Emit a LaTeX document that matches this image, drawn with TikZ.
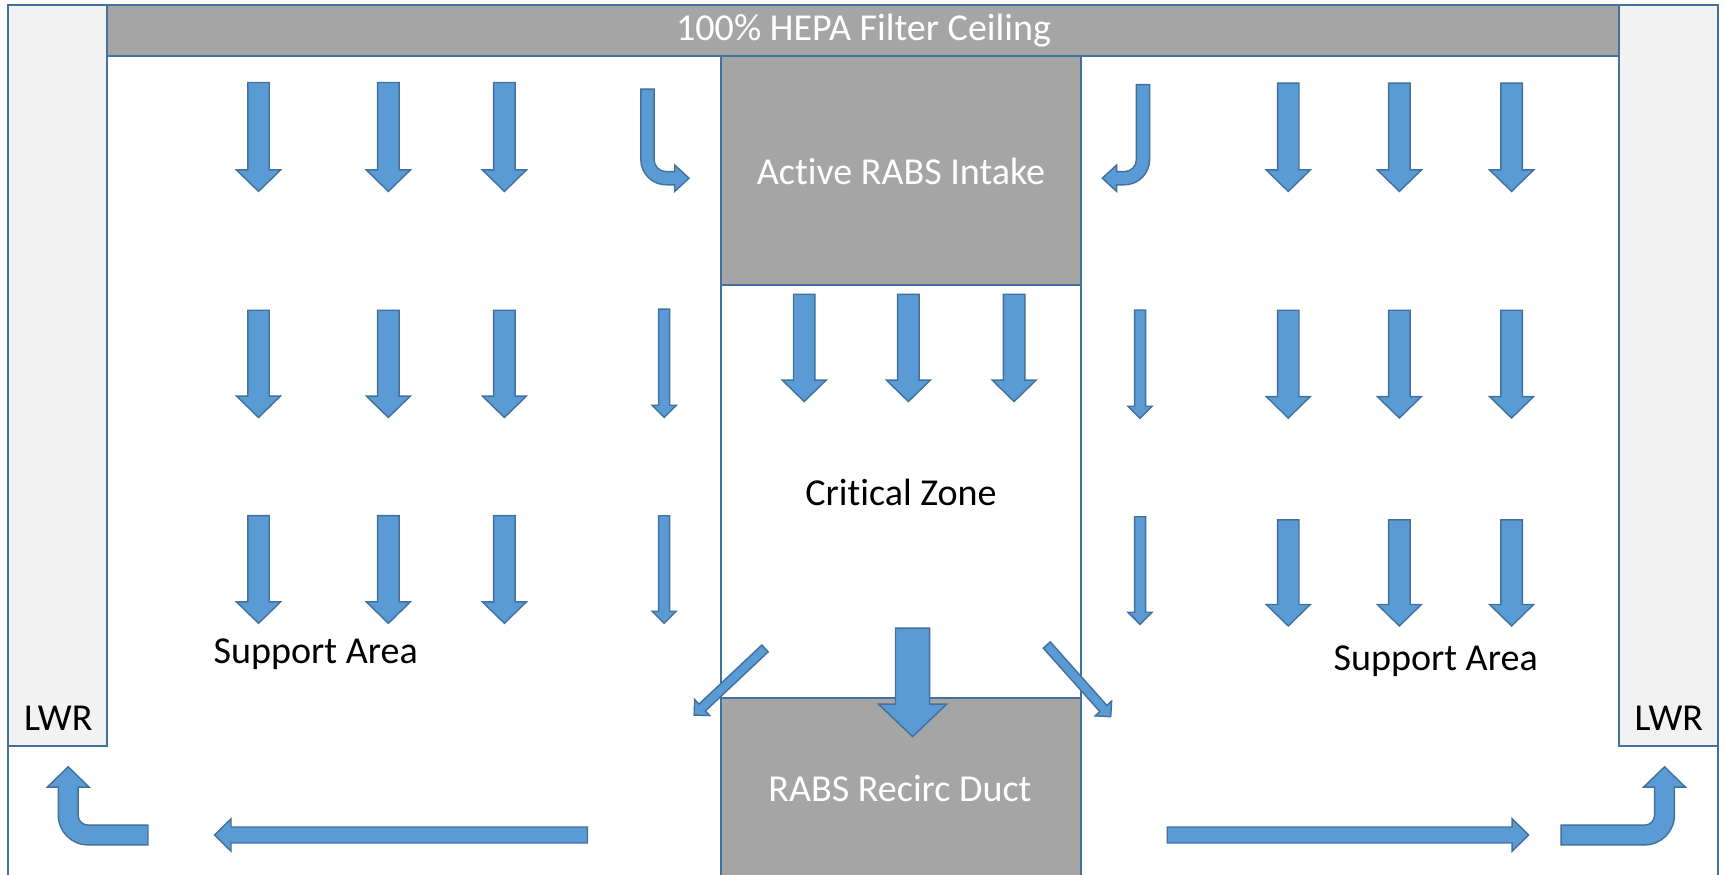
\documentclass[tikz,border=0pt]{standalone}
\usepackage{fontspec}
\setmainfont{Carlito}[Ligatures=NoCommon]
\usetikzlibrary{calc}
\definecolor{arrowfill}{HTML}{5B9BD5}
\definecolor{arrowline}{HTML}{41719C}
\definecolor{boxline}{HTML}{41719C}
\definecolor{ductgray}{HTML}{A5A5A5}
\definecolor{lwrgray}{HTML}{F2F2F2}
\tikzset{
  blockarrow/.style={fill=arrowfill, draw=arrowline, line width=0.65pt, line join=miter},
  room/.style={draw=boxline, line width=0.9pt},
  lbl/.style={font=\fontsize{17.3}{20}\selectfont, inner sep=0pt, anchor=center},
}
% straight block arrow: x1,y1 (tail), x2,y2 (tip), half shaft, half head, head length
\newcommand{\blk}[7]{%
  \coordinate (t) at (#1,#2); \coordinate (h) at (#3,#4);
  \coordinate (hb) at ($(h)!#7!(t)$);
  \draw[blockarrow] ($(t)!#5!90:(h)$) -- ($(hb)!#5!90:(h)$) -- ($(hb)!#6!90:(h)$) -- (h)
     -- ($(hb)!#6!-90:(h)$) -- ($(hb)!#5!-90:(h)$) -- ($(t)!#5!-90:(h)$) -- cycle;}
\newcommand{\flowdown}[3]{\blk{#1}{#2}{#1}{#3}{4.875pt}{10pt}{9.75pt}}
\newcommand{\flowthin}[3]{\blk{#1}{#2}{#1}{#3}{2.5pt}{5.5pt}{5.5pt}}
\begin{document}
\begin{tikzpicture}[x=0.5pt,y=-0.5pt]
\useasboundingbox (0,0) rectangle (1568,795);
\clip (0,0) rectangle (1568,795);
\fill[white] (0,0) rectangle (1568,795);
% room frame and panels
\draw[room, fill=white] (7.5,4.5) rectangle (1561.5,830);
\draw[room, fill=lwrgray] (7.5,4.5) rectangle (97.5,678);
\draw[room, fill=lwrgray] (1472,4.5) rectangle (1561.5,678);
\draw[room, fill=ductgray] (97.5,4.5) rectangle (1472,50.5);
\draw[room, fill=ductgray] (655,50.5) rectangle (982.5,259.5);
\draw[room, fill=white] (655,259.5) rectangle (982.5,634.5);
\draw[room, fill=ductgray] (655,634.5) rectangle (982.5,830);
% labels
\node[lbl, text=white] (hepa) at (785,28) {100\% HEPA Filter Ceiling};
\node[lbl, text=white] (intake) at (819,156) {Active RABS Intake};
\node[lbl] (crit) at (819,448) {Critical Zone};
\node[lbl, text=white] (recirc) at (818,717) {RABS Recirc Duct};
\node[lbl] (suppL) at (287,595) {Support Area};
\node[lbl] (suppR) at (1305,601) {Support Area};
\node[lbl] (lwrL) at (53,653) {LWR};
\node[lbl] (lwrR) at (1517,653) {LWR};
% left support area downflow
\foreach \x in {235,353,458.5}{
  \flowdown{\x}{75}{174}
  \flowdown{\x}{282}{379.5}
  \flowdown{\x}{468.7}{566.6}
}
% right support area downflow
\foreach \x in {1171,1272,1374}{
  \flowdown{\x}{75.5}{174}
  \flowdown{\x}{282}{380}
  \flowdown{\x}{472.5}{569}
}
% critical zone downflow
\foreach \x in {731,825.7,921.8}{
  \flowdown{\x}{267.5}{365}
}
% thin arrows beside the RABS
\flowthin{603.7}{281}{379.4}
\flowthin{603.7}{468.8}{566.6}
\flowthin{1036.3}{281.8}{380.3}
\flowthin{1036.3}{469.7}{567.5}
% big arrow into recirc duct
\blk{829.5}{571}{829.5}{669.6}{7.75pt}{15.5pt}{14.8pt}
% diagonal spill arrows
\blk{695.4}{589.4}{631}{650}{2.125pt}{5pt}{5pt}
\blk{951.5}{586.3}{1009.6}{651.5}{2.125pt}{5pt}{5pt}
% bottom return arrows
\blk{534}{759}{195}{759}{3.625pt}{7.375pt}{7.5pt}
\blk{1061}{759}{1389.5}{759}{3.625pt}{7.375pt}{7.5pt}
% bent arrows into the RABS intake
\draw[blockarrow] (582.5,81) -- (594.5,81) -- (594.5,145)
  .. controls (594.5,151.1) and (599.4,156) .. (605.5,156)
  -- (613.3,156) -- (613.3,150) -- (626.3,162) -- (613.3,174) -- (613.3,168) -- (605.5,168)
  .. controls (592.8,168) and (582.5,157.7) .. (582.5,145) -- cycle;
\draw[blockarrow] (1045,77) -- (1033,77) -- (1033,145)
  .. controls (1033,151.1) and (1028.1,156) .. (1022,156)
  -- (1015,156) -- (1015,150) -- (1002,162) -- (1015,174) -- (1015,168) -- (1022,168)
  .. controls (1034.7,168) and (1045,157.7) .. (1045,145) -- cycle;
% bent arrows up into the LWRs
\draw[blockarrow] (134.5,750) -- (80,750)
  .. controls (75,750) and (71,746) .. (71,741)
  -- (71,715.5) -- (81,715.5) -- (62,697) -- (43,715.5) -- (53,715.5) -- (53,741)
  .. controls (53,755.9) and (65.1,768) .. (80,768) -- (134.5,768) -- cycle;
\draw[blockarrow] (1419,750) -- (1495,750)
  .. controls (1500,750) and (1504,746) .. (1504,741)
  -- (1504,715.5) -- (1494,715.5) -- (1513,697) -- (1532,715.5) -- (1522,715.5) -- (1522,741)
  .. controls (1522,755.9) and (1509.9,768) .. (1495,768) -- (1419,768) -- cycle;
\end{tikzpicture}
\end{document}
